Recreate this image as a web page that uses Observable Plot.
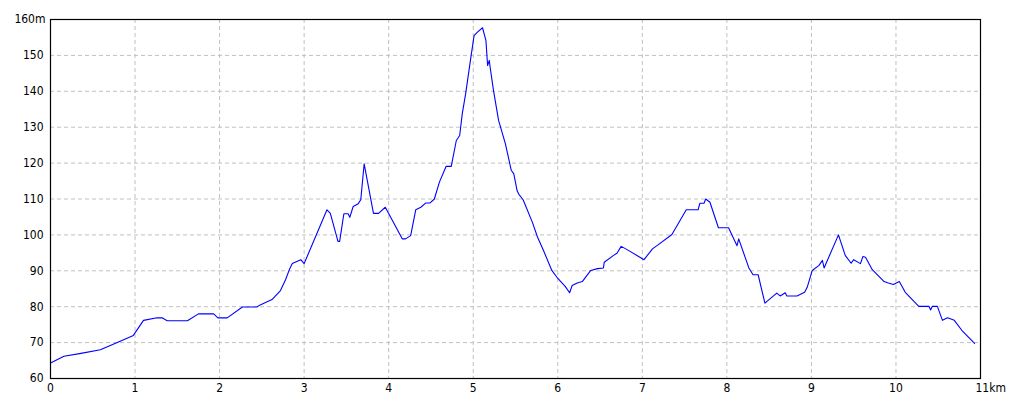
<!DOCTYPE html>
<html>
<head>
<meta charset="utf-8">
<script src="https://cdn.jsdelivr.net/npm/d3@7"></script>
<script src="https://cdn.jsdelivr.net/npm/@observablehq/plot@0.6"></script>
<style>
  html, body { margin: 0; padding: 0; background: #fff; }
  #chart svg { display: block; }
</style>
</head>
<body>
<div id="chart"></div>
<script>
const distanceKm = [0, 0.16, 0.36, 0.59, 0.79, 0.98, 1.10, 1.26, 1.32, 1.38, 1.62, 1.75, 1.93, 1.98, 2.09, 2.27, 2.44, 2.48, 2.62, 2.72, 2.78, 2.83, 2.86, 2.96, 3.0, 3.27, 3.31, 3.40, 3.42, 3.47, 3.52, 3.54, 3.58, 3.64, 3.67, 3.71, 3.82, 3.88, 3.96, 4.16, 4.20, 4.26, 4.32, 4.38, 4.44, 4.49, 4.54, 4.60, 4.68, 4.74, 4.80, 4.84, 4.87, 4.91, 4.97, 5.01, 5.05, 5.11, 5.15, 5.17, 5.19, 5.20, 5.24, 5.30, 5.38, 5.45, 5.48, 5.52, 5.54, 5.59, 5.70, 5.76, 5.83, 5.93, 5.99, 6.09, 6.14, 6.17, 6.23, 6.29, 6.39, 6.47, 6.54, 6.55, 6.66, 6.70, 6.75, 6.82, 7.02, 7.12, 7.19, 7.35, 7.52, 7.66, 7.68, 7.73, 7.75, 7.80, 7.90, 8.02, 8.12, 8.14, 8.26, 8.31, 8.37, 8.45, 8.59, 8.63, 8.69, 8.71, 8.83, 8.92, 8.95, 9.01, 9.09, 9.13, 9.15, 9.32, 9.40, 9.47, 9.50, 9.58, 9.61, 9.64, 9.72, 9.86, 9.91, 9.97, 10.04, 10.11, 10.27, 10.39, 10.41, 10.43, 10.49, 10.55, 10.61, 10.69, 10.79, 10.93];
const elevationM = [64.3, 66.2, 67.0, 68.0, 70.0, 72.0, 76.2, 76.9, 76.9, 76.1, 76.1, 78.0, 78.0, 76.9, 76.9, 79.9, 79.9, 80.5, 82.0, 84.5, 87.5, 90.6, 92.0, 93.1, 92.0, 107.0, 106.0, 98.2, 98.2, 105.9, 105.9, 104.9, 107.9, 108.7, 109.8, 119.8, 106.0, 106.0, 107.7, 98.9, 98.9, 99.8, 107.0, 107.7, 108.9, 108.9, 110.0, 114.7, 119.1, 119.1, 126.3, 127.7, 133.7, 139.3, 149.1, 155.5, 156.5, 157.7, 154.2, 147.2, 148.6, 146.7, 140.2, 131.9, 125.4, 118.0, 117.0, 112.2, 111.3, 109.8, 103.5, 99.4, 95.7, 90.1, 88.2, 85.6, 83.9, 85.9, 86.6, 87.0, 90.1, 90.6, 90.8, 92.4, 94.3, 94.9, 96.8, 95.9, 93.1, 96.1, 97.3, 100.1, 107.0, 107.0, 108.8, 108.8, 110.0, 109.1, 102.0, 102.0, 97.0, 98.9, 90.8, 88.9, 88.9, 81.0, 83.8, 83.0, 83.9, 83.0, 83.0, 84.0, 85.4, 90.1, 91.5, 92.9, 90.8, 100.0, 94.3, 92.1, 93.1, 92.0, 94.0, 93.8, 90.3, 87.0, 86.6, 86.2, 87.0, 84.0, 80.1, 80.1, 79.1, 80.1, 80.1, 76.2, 76.9, 76.2, 73.1, 69.8];

const xTicks = [0, 1, 2, 3, 4, 5, 6, 7, 8, 9, 10];
const xEndTick = 11;
const xEndLabel = "11km";
const yTicks = [60, 70, 80, 90, 100, 110, 120, 130, 140, 150];
const yEndTick = 160;
const yEndLabel = "160m";
const xGrid = [1, 2, 3, 4, 5, 6, 7, 8, 9, 10];
const yGrid = [70, 80, 90, 100, 110, 120, 130, 140, 150];

const profile = distanceKm.map((d, i) => ({d, e: elevationM[i]}));

const chart = Plot.plot({
  width: 1020,
  height: 408,
  marginTop: 19,
  marginBottom: 30,
  marginLeft: 50,
  marginRight: 40,
  style: {fontFamily: "'Liberation Sans Narrow', 'DejaVu Sans Condensed', 'Liberation Sans', sans-serif", fontSize: "12px", color: "#000", background: "#fff"},
  x: {domain: [0, 11]},
  y: {domain: [60, 160]},
  marks: [
    Plot.ruleX(xGrid, {stroke: "#c0c0c0", strokeDasharray: "4,3", strokeWidth: 1}),
    Plot.ruleY(yGrid, {stroke: "#c0c0c0", strokeDasharray: "4,3", strokeWidth: 1}),
    Plot.axisX(xTicks, {tickSize: 0, tickPadding: 5, label: null, fill: "#000"}),
    Plot.axisX([xEndTick], {tickSize: 0, tickPadding: 5, label: null, tickFormat: () => xEndLabel, textAnchor: "start", dx: -5, fill: "#000"}),
    Plot.axisY(yTicks, {tickSize: 0, tickPadding: 7, label: null, fill: "#000"}),
    Plot.axisY([yEndTick], {tickSize: 0, tickPadding: 5, label: null, tickFormat: () => yEndLabel, fill: "#000"}),
    Plot.line(profile, {x: "d", y: "e", stroke: "#0000ff", strokeWidth: 1.1}),
    Plot.frame({stroke: "#000", strokeWidth: 1.2})
  ]
});
document.getElementById("chart").appendChild(chart);
</script>
</body>
</html>
